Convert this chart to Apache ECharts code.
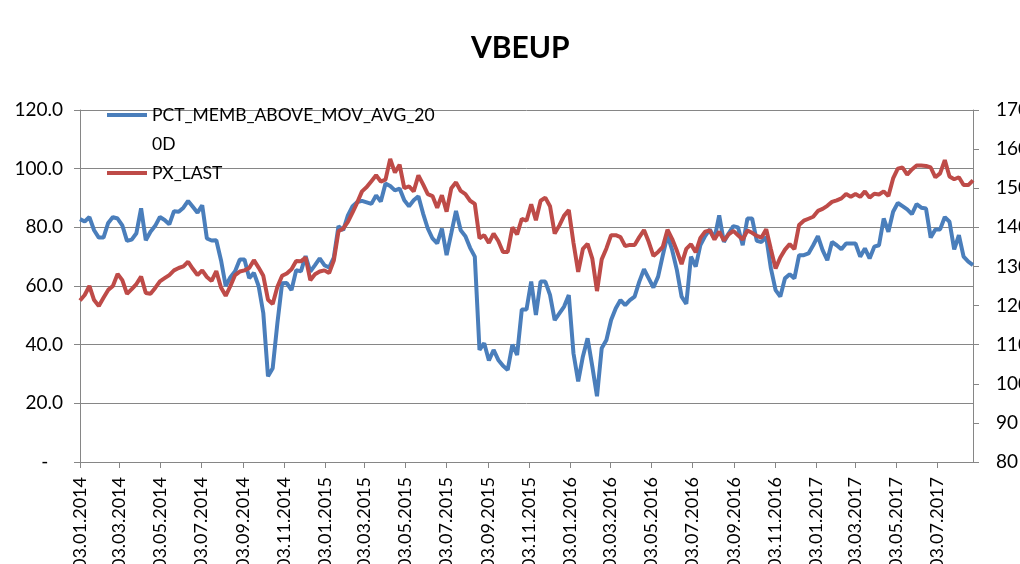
<!DOCTYPE html>
<html>
<head>
<meta charset="utf-8">
<title>VBEUP</title>
<script src="https://cdn.jsdelivr.net/npm/echarts@6/dist/echarts.min.js"></script>
<style>
  html, body { margin: 0; padding: 0; background: #fff; }
  #chart { width: 1020px; height: 564px; }
</style>
</head>
<body>
<div id="chart"></div>
<script>
// weekly observations, first one on 03.01.2014
const startDate = '2014-01-03'
const tickDates = [
  '2014-01-03', '2014-03-03', '2014-05-03', '2014-07-03', '2014-09-03', '2014-11-03',
  '2015-01-03', '2015-03-03', '2015-05-03', '2015-07-03', '2015-09-03', '2015-11-03',
  '2016-01-03', '2016-03-03', '2016-05-03', '2016-07-03', '2016-09-03', '2016-11-03',
  '2017-01-03', '2017-03-03', '2017-05-03', '2017-07-03'
]

// PCT_MEMB_ABOVE_MOV_AVG_200D (left axis)
const pctAbove = [
  82.8, 82, 83.5, 79, 76.5, 76.5, 81.5, 83.5, 83, 80.7,
  75.4, 75.8, 78, 86.5, 75.6, 78.5, 80.5, 83.5, 82.5, 81,
  85.5, 85.3, 86.7, 89, 87, 85, 87.5, 76.2, 75.5, 75.6,
  68.8, 60, 63, 65, 69, 69, 62.7, 64.5, 60, 50.8,
  29.2, 32, 47.4, 60.9, 61, 58.6, 65.4, 65, 70.2, 64.9,
  67.1, 69.4, 67.1, 66.3, 69.7, 80.4, 79, 84.1, 87.2, 88.6,
  89, 88.5, 88, 90.9, 88.8, 94.9, 94.1, 92.6, 93.2, 89.2,
  87.2, 89.2, 90.6, 84.7, 79.6, 76.2, 74.5, 79.6, 70.5, 78,
  85.6, 79, 77, 73, 70, 38.2, 40.5, 34.6, 38.2, 34.8,
  32.8, 31.4, 40, 36.5, 52, 52, 61.5, 50.1, 61.5, 61.5,
  57, 48.4, 50.7, 53, 56.9, 37, 27.5, 36, 42.2, 32.6,
  22.4, 38.8, 41.6, 48.4, 52.4, 55.2, 53.5, 55.2, 56.4, 61.5,
  65.7, 62.6, 59.5, 63.2, 70.5, 77.3, 72.2, 65.4, 56.4, 53.9,
  70, 66.6, 74, 77, 79.3, 76.2, 84.1, 75, 77.9, 80.4,
  80, 73.9, 83, 83, 75.4, 75, 76.7, 66, 58.6, 56.4,
  62.6, 64, 62.6, 70.5, 70.5, 71.1, 73.9, 77, 72.2, 68.8,
  75, 73.9, 72.5, 74.5, 74.5, 74.5, 70, 72.8, 69.4, 73.4,
  73.9, 83, 78.5, 85.3, 88.3, 87.2, 86.1, 84.5, 87.9, 86.7,
  86.4, 76.5, 79.3, 79.3, 83.5, 81.9, 72.5, 77.3, 70, 68.3,
  67.1
]

// PX_LAST (right axis)
const pxLast = [
  121.3, 122.7, 125, 121.4, 119.9, 122, 124, 125, 128.1, 126.5,
  123, 124.2, 125.5, 127.4, 123.2, 123, 124.5, 126.2, 127, 127.8,
  129, 129.6, 130, 131.2, 129.4, 127.8, 129, 127.3, 126.3, 128.8,
  124.6, 122.5, 125, 127.8, 128.7, 129, 129.6, 131.6, 129.7, 127.6,
  121.5, 120.4, 124.8, 127.6, 128.2, 129.3, 131.4, 131.3, 132.3, 126.5,
  128, 128.7, 129, 128.3, 131.5, 139, 139.7, 141.4, 143.8, 146.4,
  149.2, 150.3, 151.8, 153.3, 151.7, 152.2, 157.5, 154, 156, 150,
  150.5, 149.2, 153.3, 151, 148.5, 148, 145, 148.2, 144, 150,
  151.5, 149.3, 148.5, 146.8, 146, 137.2, 138, 136, 138.4, 136.5,
  133.7, 133.7, 140, 138.2, 142.2, 141.7, 145.9, 141.8, 146.8, 147.6,
  145.4, 138.4, 140.5, 143, 144.4, 136, 128.6, 134.5, 135.8, 132,
  123.7, 131.8, 134.6, 138, 138, 137.5, 135.2, 135.5, 135.5, 137.5,
  139.3, 136.3, 132.7, 133.7, 135, 139.4, 137, 134, 130.6, 134.5,
  135.7, 133.6, 137.3, 138.9, 139.2, 136.9, 138.9, 136.6, 138.2, 139.1,
  138, 136.9, 139.2, 138.6, 137.8, 137.4, 139.5, 134.4, 129.5, 132.3,
  134.3, 135.7, 134.4, 140.6, 141.7, 142.2, 142.7, 144.2, 144.7, 145.5,
  146.5, 146.9, 147.4, 148.5, 147.8, 148.5, 147.8, 149.2, 147.6, 148.6,
  148.4, 149.2, 148, 152.5, 155, 155.3, 153.5, 154.8, 155.8, 155.8,
  155.7, 155.3, 152.8, 153.8, 157.2, 153, 152.3, 152.8, 150.8, 150.8,
  152
]

const DAY = 24 * 3600 * 1000
// dates as whole days (UTC) so that no timezone can shift them
const toDay = (s) => {
  const [y, m, d] = s.split('-').map(Number)
  return Date.UTC(y, m - 1, d) / DAY
}
const pad = (n) => (n < 10 ? '0' : '') + n

const firstDay = toDay(startDate)
const weekDays = pctAbove.map((_, i) => firstDay + 7 * i)
const tickDays = tickDates.map(toDay)

const fontFamily = 'Lato, "Noto Sans", sans-serif'
const gridColor = '#868686'
const blue = '#4a7ebb'
const red = '#be4b48'
const legendFont = 17.5

const chart = echarts.init(document.getElementById('chart'))

const option = {
  backgroundColor: '#ffffff',
  animation: false,
  textStyle: { fontFamily: fontFamily },
  title: {
    text: 'VBEUP',
    left: 466,
    top: 28,
    textStyle: { fontSize: 30, fontWeight: 'bold', color: '#000', fontFamily: fontFamily }
  },
  legend: [
    {
      // the long name wraps in the spreadsheet legend, second line drawn below
      data: ['PCT_MEMB_ABOVE_MOV_AVG_200D'],
      left: 107,
      top: 100,
      padding: 0,
      itemWidth: 40,
      itemHeight: 4,
      icon: 'rect',
      formatter: () => 'PCT_MEMB_ABOVE_MOV_AVG_20',
      textStyle: { fontSize: legendFont, color: '#000', lineHeight: 30 }
    },
    {
      data: ['PX_LAST'],
      left: 107,
      top: 158,
      padding: 0,
      itemWidth: 40,
      itemHeight: 4,
      icon: 'rect',
      textStyle: { fontSize: legendFont, color: '#000', lineHeight: 30 }
    }
  ],
  graphic: [
    {
      type: 'text',
      left: 152,
      top: 135,
      style: {
        text: '0D',
        fontSize: legendFont,
        fontFamily: fontFamily,
        fill: '#000'
      }
    }
  ],
  grid: {
    left: 80,
    right: 47,
    top: 110,
    bottom: 102,
    containLabel: false,
    outerBoundsMode: 'none'
  },
  xAxis: {
    type: 'value',
    min: weekDays[0],
    max: weekDays[weekDays.length - 1],
    axisLine: { show: true, lineStyle: { color: gridColor, width: 1 } },
    axisTick: { show: true, length: 6, customValues: tickDays, lineStyle: { color: gridColor } },
    splitLine: { show: false },
    axisLabel: {
      customValues: tickDays,
      rotate: 90,
      margin: 15,
      fontSize: 18,
      color: '#000',
      formatter: (v) => {
        const d = new Date(v * DAY)
        return pad(d.getUTCDate()) + '.' + pad(d.getUTCMonth() + 1) + '.' + d.getUTCFullYear()
      }
    }
  },
  yAxis: [
    {
      type: 'value',
      min: 0,
      max: 120,
      interval: 20,
      axisLine: { show: true, lineStyle: { color: gridColor } },
      axisTick: { show: true, length: 6, lineStyle: { color: gridColor } },
      splitLine: { show: true, lineStyle: { color: gridColor, width: 1 } },
      axisLabel: {
        fontSize: 19,
        color: '#000',
        margin: 17,
        formatter: (v) => (v === 0 ? '-   ' : v.toFixed(1))
      }
    },
    {
      type: 'value',
      min: 80,
      max: 170,
      interval: 10,
      position: 'right',
      axisLine: { show: true, lineStyle: { color: gridColor } },
      axisTick: { show: true, length: 6, lineStyle: { color: gridColor } },
      splitLine: { show: false },
      axisLabel: { fontSize: 19, color: '#000', margin: 23 }
    }
  ],
  series: [
    {
      name: 'PCT_MEMB_ABOVE_MOV_AVG_200D',
      type: 'line',
      yAxisIndex: 0,
      showSymbol: false,
      symbol: 'none',
      color: blue,
      lineStyle: { width: 4, color: blue },
      data: weekDays.map((t, i) => [t, pctAbove[i]])
    },
    {
      name: 'PX_LAST',
      type: 'line',
      yAxisIndex: 1,
      showSymbol: false,
      symbol: 'none',
      color: red,
      lineStyle: { width: 4, color: red },
      data: weekDays.map((t, i) => [t, pxLast[i]])
    }
  ]
}

chart.setOption(option)
</script>
</body>
</html>
